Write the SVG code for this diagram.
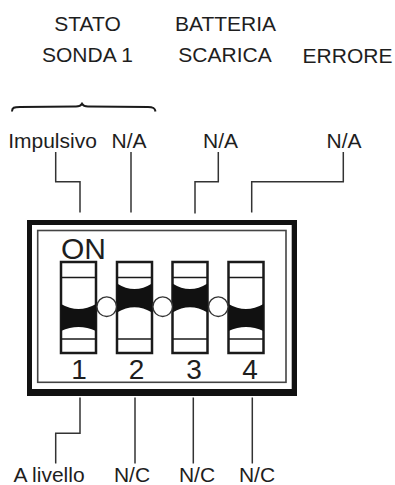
<svg xmlns="http://www.w3.org/2000/svg" width="395" height="485" viewBox="0 0 395 485">
<style>
text{font-family:"Liberation Sans",Arial,Helvetica,sans-serif;fill:#1e1e1e}
.lbl{font-size:21px;text-anchor:middle}
.num{font-size:28px;text-anchor:middle}
.wire{fill:none;stroke:#333;stroke-width:1.5}
.sw{fill:#fff;stroke:#1a1a1a;stroke-width:2.5}
.seg{stroke:#1a1a1a;stroke-width:1.6}
.blk{fill:#111}
.dot{fill:#fff;stroke:#333;stroke-width:1.4}
</style>
<rect width="395" height="485" fill="#fff"/>
<g id="headings">
<text class="lbl" x="87.5" y="31">STATO</text>
<text class="lbl" x="87.5" y="61.5">SONDA 1</text>
<text class="lbl" x="225.5" y="31">BATTERIA</text>
<text class="lbl" x="225" y="61.5">SCARICA</text>
<text class="lbl" x="347.5" y="62.5">ERRORE</text>
</g>
<g id="brace">
<path d="M12,111.5 C12,107.5 14,107 20,107 L76,106.5 C79.5,106.5 81,105.5 82,103.8 C83,105.5 84.5,106.5 88,106.5 L148,107 C153,107 155,108 155.5,111.5" fill="none" stroke="#1a1a1a" stroke-width="2"/>
</g>
<g id="top-labels">
<text class="lbl" x="52.5" y="148">Impulsivo</text>
<text class="lbl" x="129" y="148">N/A</text>
<text class="lbl" x="220.5" y="148">N/A</text>
<text class="lbl" x="344" y="148">N/A</text>
</g>
<g id="connectors">
<path class="wire" d="M55.7,152 V181.7 H80 V212.5"/>
<path class="wire" d="M131,152 V212.5"/>
<path class="wire" d="M218.3,152 V181.7 H195 V213.5"/>
<path class="wire" d="M343.3,152 V181.7 H251.7 V212.5"/>
<path class="wire" d="M80,397.5 V433.3 H55.7 V463.5"/>
<path class="wire" d="M135,397.5 V463.5"/>
<path class="wire" d="M193.3,397.5 V463.5"/>
<path class="wire" d="M252.3,397.5 V463.5"/>
</g>
<g id="dip-switch">
<path d="M27,220 H297 V396 H27 Z M32,225 V389 H291.7 V225 Z" fill="#111" fill-rule="evenodd"/>
<rect x="37.7" y="230.5" width="248.3" height="151.8" fill="none" stroke="#444" stroke-width="1.6"/>
<text x="61" y="259" style="font-size:30px">ON</text>
<g id="switch1">
<rect class="sw" x="61" y="262" width="35" height="91"/>
<line class="seg" x1="61" y1="277.5" x2="96" y2="277.5"/>
<line class="seg" x1="61" y1="339" x2="96" y2="339"/>
<path class="blk" d="M61,304 Q78.5,314 96,304 V331 Q78.5,323 61,331 Z"/>
</g>
<g id="switch2">
<rect class="sw" x="117" y="262" width="35" height="91"/>
<line class="seg" x1="117" y1="277.5" x2="152" y2="277.5"/>
<line class="seg" x1="117" y1="339" x2="152" y2="339"/>
<path class="blk" d="M117,283.5 Q134.5,294.5 152,283.5 V312.5 Q134.5,302 117,312.5 Z"/>
</g>
<g id="switch3">
<rect class="sw" x="172.5" y="262" width="35" height="91"/>
<line class="seg" x1="172.5" y1="277.5" x2="207.5" y2="277.5"/>
<line class="seg" x1="172.5" y1="339" x2="207.5" y2="339"/>
<path class="blk" d="M172.5,283.5 Q190,294.5 207.5,283.5 V312.5 Q190,302 172.5,312.5 Z"/>
</g>
<g id="switch4">
<rect class="sw" x="228.5" y="262" width="35" height="91"/>
<line class="seg" x1="228.5" y1="277.5" x2="263.5" y2="277.5"/>
<line class="seg" x1="228.5" y1="339" x2="263.5" y2="339"/>
<path class="blk" d="M228.5,304 Q246,314 263.5,304 V331 Q246,323 228.5,331 Z"/>
</g>
<circle class="dot" cx="106.7" cy="306.7" r="9.8"/>
<circle class="dot" cx="162.7" cy="306.7" r="9.8"/>
<circle class="dot" cx="218.3" cy="306.7" r="9.8"/>
<text class="num" x="79" y="378.5">1</text>
<text class="num" x="136.5" y="378.5">2</text>
<text class="num" x="194" y="378.5">3</text>
<text class="num" x="250" y="378.5">4</text>
</g>
<g id="bottom-labels">
<text class="lbl" x="49" y="482">A livello</text>
<text class="lbl" x="132" y="482">N/C</text>
<text class="lbl" x="197" y="482">N/C</text>
<text class="lbl" x="257" y="482">N/C</text>
</g>
</svg>
